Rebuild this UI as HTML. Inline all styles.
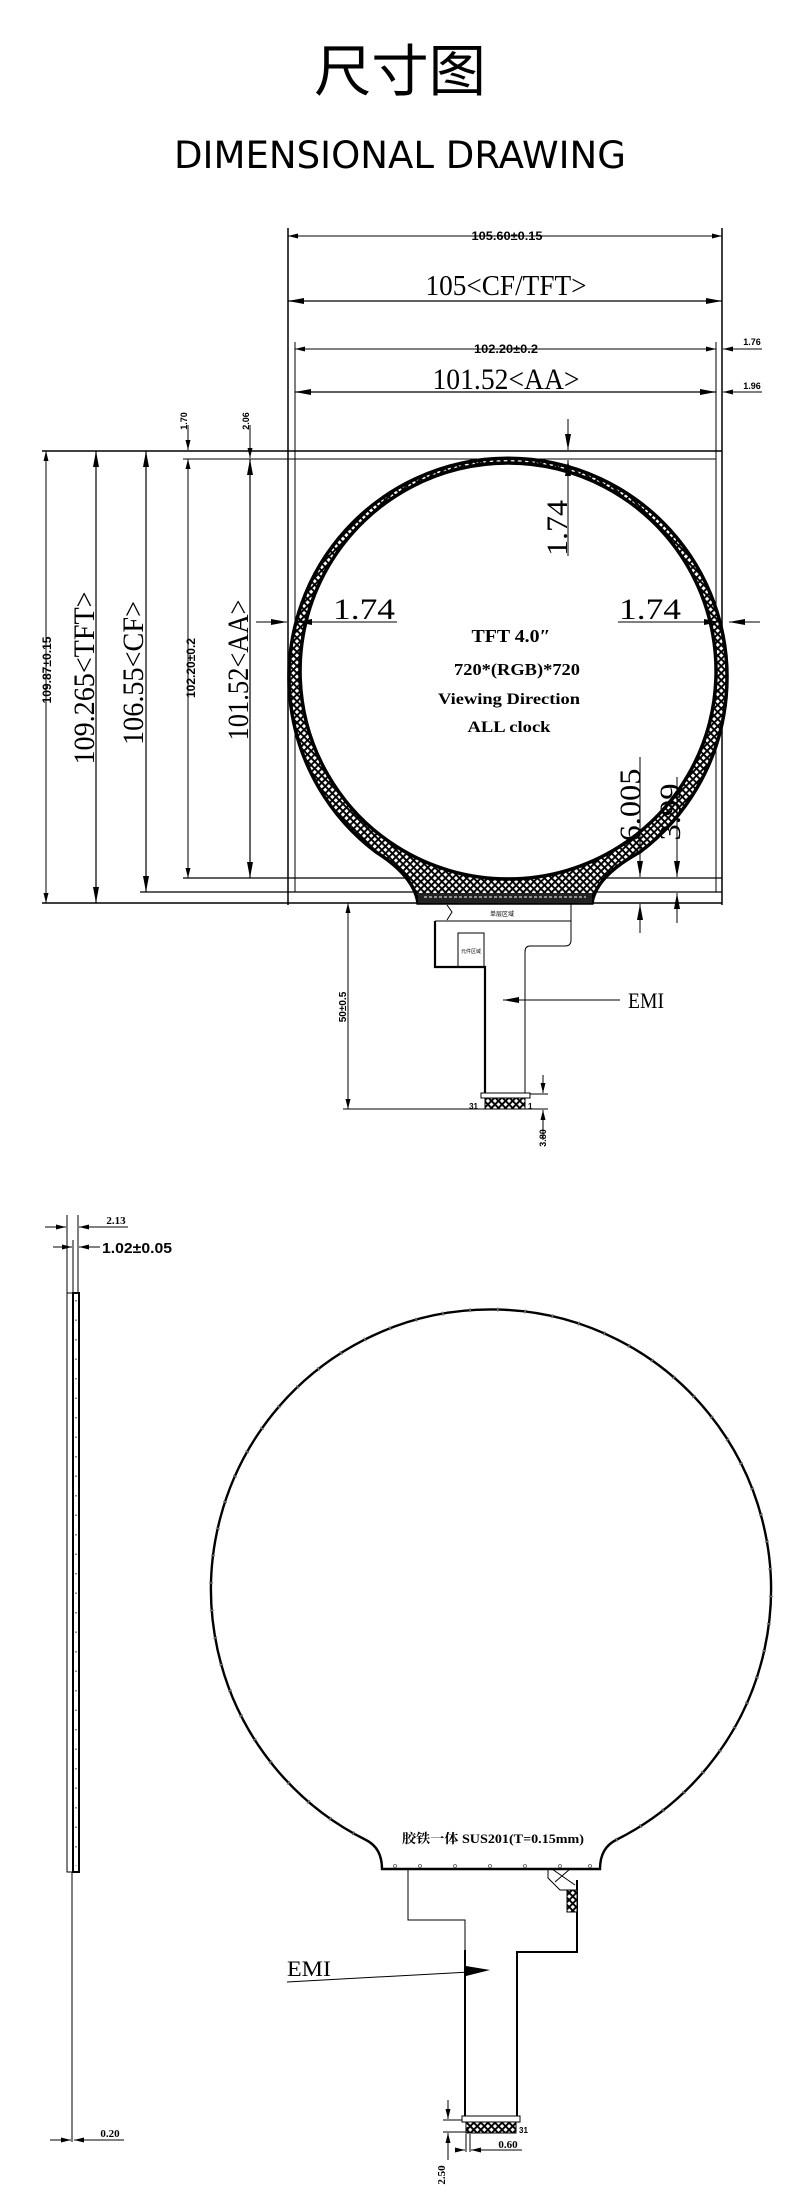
<!DOCTYPE html>
<html><head><meta charset="utf-8"><style>
html,body{margin:0;padding:0;background:#fff;}
svg{display:block}
.s{font-family:"Liberation Sans",sans-serif;font-weight:bold;}
.f{font-family:"Liberation Serif","Noto Serif CJK SC",serif;}
</style></head><body>
<svg width="800" height="2194" viewBox="0 0 800 2194" xmlns="http://www.w3.org/2000/svg">
<defs>
<pattern id="h" width="5" height="5" patternUnits="userSpaceOnUse" patternTransform="rotate(45)">
<rect width="5" height="5" fill="#fff"/>
<rect width="5" height="1.9" fill="#000"/><rect width="1.9" height="5" fill="#000"/>
</pattern>
<marker id="a" viewBox="0 0 10 6" refX="10" refY="3" markerWidth="10" markerHeight="6" markerUnits="userSpaceOnUse" orient="auto-start-reverse"><path d="M0,0.5 L10,3 L0,5.5 Z" fill="#000"/></marker>
<marker id="b" viewBox="0 0 16 6" refX="16" refY="3" markerWidth="16" markerHeight="6" markerUnits="userSpaceOnUse" orient="auto-start-reverse"><path d="M0,0 L16,3 L0,6 Z" fill="#000"/></marker>
</defs>

<!-- Title -->
<text x="400" y="91" text-anchor="middle" font-family="Noto Sans CJK SC, sans-serif" font-size="56" textLength="172" lengthAdjust="spacingAndGlyphs">尺寸图</text>
<text x="400" y="168" text-anchor="middle" font-family="DejaVu Sans, sans-serif" font-size="37" textLength="452" lengthAdjust="spacingAndGlyphs">DIMENSIONAL DRAWING</text>

<g stroke="#000" fill="none">
<line x1="288" y1="228" x2="288" y2="905" stroke-width="1.5"/>
<line x1="722" y1="228" x2="722" y2="905" stroke-width="1.5"/>
<line x1="295" y1="342" x2="295" y2="892" stroke-width="1"/>
<line x1="716" y1="342" x2="716" y2="892" stroke-width="1"/>
<line x1="288" y1="236" x2="722" y2="236" stroke-width="1" marker-start="url(#a)" marker-end="url(#a)"/>
<line x1="288" y1="301" x2="722" y2="301" stroke-width="1.2" marker-start="url(#b)" marker-end="url(#b)"/>
<line x1="295" y1="349" x2="716" y2="349" stroke-width="1" marker-start="url(#a)" marker-end="url(#a)"/>
<line x1="295" y1="392" x2="716" y2="392" stroke-width="1.2" marker-start="url(#b)" marker-end="url(#b)"/>
<line x1="762" y1="349" x2="723" y2="349" stroke-width="1" marker-end="url(#a)"/>
<line x1="762" y1="392" x2="723" y2="392" stroke-width="1" marker-end="url(#a)"/>
<line x1="42" y1="451" x2="722" y2="451" stroke-width="1.5"/>
<line x1="183" y1="459" x2="716" y2="459" stroke-width="1"/>
<line x1="183" y1="878" x2="722" y2="878" stroke-width="1.2"/>
<line x1="140" y1="892" x2="722" y2="892" stroke-width="1.2"/>
<line x1="42" y1="903" x2="722" y2="903" stroke-width="1.5"/>
<line x1="46" y1="451" x2="46" y2="903" stroke-width="1" marker-start="url(#a)" marker-end="url(#a)"/>
<line x1="96" y1="451" x2="96" y2="903" stroke-width="1.2" marker-start="url(#b)" marker-end="url(#b)"/>
<line x1="146" y1="451" x2="146" y2="892" stroke-width="1.2" marker-start="url(#b)" marker-end="url(#b)"/>
<line x1="188" y1="459" x2="188" y2="878" stroke-width="1" marker-start="url(#a)" marker-end="url(#a)"/>
<line x1="250" y1="459" x2="250" y2="878" stroke-width="1.2" marker-start="url(#b)" marker-end="url(#b)"/>
<line x1="188" y1="425" x2="188" y2="450" stroke-width="1" marker-end="url(#a)"/>
<line x1="250" y1="425" x2="250" y2="458" stroke-width="1" marker-end="url(#a)"/>
</g>

<path d="M418,903 L592,903 Q596,876 640,852 A219,219 0 1,0 376,852 Q414,876 418,903 Z M508,463 A208,208 0 1,0 508.1,463 Z" fill="url(#h)" fill-rule="evenodd" stroke="#000" stroke-width="3.5"/>
<rect x="418" y="893" width="174" height="10" fill="#222"/>
<line x1="424" y1="897" x2="586" y2="897" stroke="#fff" stroke-width="1" stroke-dasharray="3,2"/>

<g stroke="#000" fill="none">
<line x1="256" y1="622" x2="287" y2="622" stroke-width="1" marker-end="url(#b)"/>
<line x1="296" y1="622" x2="397" y2="622" stroke-width="1" marker-start="url(#b)"/>
<line x1="618" y1="622" x2="720" y2="622" stroke-width="1" marker-end="url(#b)"/>
<line x1="760" y1="622" x2="729" y2="622" stroke-width="1" marker-end="url(#b)"/>
<line x1="568" y1="419" x2="568" y2="450" stroke-width="1" marker-end="url(#b)"/>
<line x1="568" y1="556" x2="568" y2="460" stroke-width="1" marker-end="url(#b)"/>
<line x1="640" y1="757" x2="640" y2="877" stroke-width="1" marker-end="url(#b)"/>
<line x1="640" y1="933" x2="640" y2="904" stroke-width="1" marker-end="url(#b)"/>
<line x1="677" y1="777" x2="677" y2="877" stroke-width="1" marker-end="url(#b)"/>
<line x1="677" y1="923" x2="677" y2="893" stroke-width="1" marker-end="url(#b)"/>
<path d="M447,905 L452,912 L447,920" stroke-width="1"/>
<path d="M571,903 L571,940 Q571,946 565,946 L530,946 Q525,946 525,952 L525,1093" stroke-width="1"/>
<line x1="435" y1="921" x2="571" y2="921" stroke-width="1"/>
<path d="M435,921 L435,967 L485,967 L485,1093" stroke-width="2.2"/>
<rect x="458" y="933" width="26" height="34" stroke-width="1"/>
<rect x="481" y="1093" width="49" height="5" stroke-width="1"/>
<rect x="485" y="1098" width="40" height="11" fill="url(#h)" stroke-width="1"/>
<line x1="348" y1="903" x2="348" y2="1109" stroke-width="1" marker-start="url(#a)" marker-end="url(#a)"/>
<line x1="343" y1="1109" x2="548" y2="1109" stroke-width="1"/>
<line x1="530" y1="1094" x2="548" y2="1094" stroke-width="1"/>
<line x1="543" y1="1075" x2="543" y2="1093" stroke-width="1" marker-end="url(#a)"/>
<line x1="543" y1="1140" x2="543" y2="1110" stroke-width="1" marker-end="url(#a)"/>
<line x1="620" y1="1000" x2="503" y2="1000" stroke-width="1" marker-end="url(#b)"/>
</g>

<text class="s" x="507" y="240" text-anchor="middle" font-size="12" textLength="71" lengthAdjust="spacingAndGlyphs">105.60±0.15</text>
<text class="f" x="506" y="295" text-anchor="middle" font-size="28" textLength="161" lengthAdjust="spacingAndGlyphs">105&lt;CF/TFT&gt;</text>
<text class="s" x="506" y="353" text-anchor="middle" font-size="12" textLength="64" lengthAdjust="spacingAndGlyphs">102.20±0.2</text>
<text class="f" x="506" y="389" text-anchor="middle" font-size="30" textLength="147" lengthAdjust="spacingAndGlyphs">101.52&lt;AA&gt;</text>
<text class="s" x="752" y="345" text-anchor="middle" font-size="9">1.76</text>
<text class="s" x="752" y="389" text-anchor="middle" font-size="9">1.96</text>
<text class="s" transform="translate(187,421) rotate(-90)" text-anchor="middle" font-size="9">1.70</text>
<text class="s" transform="translate(249,421) rotate(-90)" text-anchor="middle" font-size="9">2.06</text>
<text class="s" transform="translate(51,670) rotate(-90)" text-anchor="middle" font-size="12" textLength="67" lengthAdjust="spacingAndGlyphs">109.87±0.15</text>
<text class="f" transform="translate(94,678) rotate(-90)" text-anchor="middle" font-size="30" textLength="173" lengthAdjust="spacingAndGlyphs">109.265&lt;TFT&gt;</text>
<text class="f" transform="translate(143,673) rotate(-90)" text-anchor="middle" font-size="30" textLength="144" lengthAdjust="spacingAndGlyphs">106.55&lt;CF&gt;</text>
<text class="s" transform="translate(195,668) rotate(-90)" text-anchor="middle" font-size="12" textLength="60" lengthAdjust="spacingAndGlyphs">102.20±0.2</text>
<text class="f" transform="translate(248,670) rotate(-90)" text-anchor="middle" font-size="30" textLength="141" lengthAdjust="spacingAndGlyphs">101.52&lt;AA&gt;</text>
<text class="f" x="364" y="619" text-anchor="middle" font-size="30" textLength="62" lengthAdjust="spacingAndGlyphs">1.74</text>
<text class="f" x="650" y="619" text-anchor="middle" font-size="30" textLength="62" lengthAdjust="spacingAndGlyphs">1.74</text>
<text class="f" transform="translate(567,528) rotate(-90)" text-anchor="middle" font-size="30" textLength="56" lengthAdjust="spacingAndGlyphs">1.74</text>
<text class="f" transform="translate(640,805) rotate(-90)" text-anchor="middle" font-size="30" textLength="73" lengthAdjust="spacingAndGlyphs">6.005</text>
<text class="f" transform="translate(680,812) rotate(-90)" text-anchor="middle" font-size="30" textLength="57" lengthAdjust="spacingAndGlyphs">3.99</text>
<g class="f" font-weight="bold" text-anchor="middle">
<text x="511" y="642" font-size="18" textLength="79" lengthAdjust="spacingAndGlyphs">TFT 4.0″</text>
<text x="517" y="675" font-size="17" textLength="126" lengthAdjust="spacingAndGlyphs">720*(RGB)*720</text>
<text x="509" y="704" font-size="16" textLength="142" lengthAdjust="spacingAndGlyphs">Viewing Direction</text>
<text x="509" y="732" font-size="16" textLength="83" lengthAdjust="spacingAndGlyphs">ALL clock</text>
</g>
<text x="502" y="916" text-anchor="middle" font-size="6" font-family="Noto Sans CJK SC,sans-serif">单层区域</text>
<text x="471" y="953" text-anchor="middle" font-size="5" font-family="Noto Sans CJK SC,sans-serif">元件区域</text>
<text class="s" x="478" y="1109" text-anchor="end" font-size="8">31</text>
<text class="s" x="528" y="1109" font-size="8">1</text>
<text class="s" transform="translate(346,1007) rotate(-90)" text-anchor="middle" font-size="10">50±0.5</text>
<text class="s" transform="translate(546,1138) rotate(-90)" text-anchor="middle" font-size="9">3.80</text>
<text class="f" x="628" y="1008" font-size="22" textLength="36" lengthAdjust="spacingAndGlyphs">EMI</text>

<g stroke="#000" fill="none">
<line x1="67" y1="1215" x2="67" y2="1293" stroke-width="1"/>
<line x1="73" y1="1240" x2="73" y2="1293" stroke-width="1"/>
<line x1="78" y1="1215" x2="78" y2="1293" stroke-width="1"/>
<line x1="45" y1="1227" x2="66" y2="1227" stroke-width="1" marker-end="url(#a)"/>
<line x1="108" y1="1227" x2="79" y2="1227" stroke-width="1" marker-end="url(#a)"/>
<line x1="108" y1="1227" x2="128" y2="1227" stroke-width="1"/>
<line x1="53" y1="1247" x2="72" y2="1247" stroke-width="1" marker-end="url(#a)"/>
<line x1="100" y1="1247" x2="79" y2="1247" stroke-width="1" marker-end="url(#a)"/>
<rect x="67" y="1293" width="12" height="579" stroke-width="1"/>
<rect x="73" y="1293" width="6" height="579" stroke-width="2"/>
<line x1="76" y1="1300" x2="76" y2="1866" stroke="#888" stroke-width="2" stroke-dasharray="1.5,18"/>
<line x1="72" y1="1872" x2="72" y2="2142" stroke-width="1"/>
<line x1="50" y1="2140" x2="71" y2="2140" stroke-width="1" marker-end="url(#a)"/>
<line x1="94" y1="2140" x2="74" y2="2140" stroke-width="1" marker-end="url(#a)"/>
<line x1="94" y1="2140" x2="124" y2="2140" stroke-width="1"/>
</g>
<text class="f" x="116" y="1224" text-anchor="middle" font-size="11" font-weight="bold">2.13</text>
<text class="s" x="137" y="1253" text-anchor="middle" font-size="15" textLength="70" lengthAdjust="spacingAndGlyphs">1.02±0.05</text>
<text class="f" x="110" y="2137" text-anchor="middle" font-size="11" font-weight="bold">0.20</text>

<g stroke="#000" fill="none">
<path d="M382,1869 L600,1869 Q600,1848 616,1840 A280,280 0 1,0 366,1840 Q382,1848 382,1869 Z" stroke-width="2.4"/>
<path d="M616,1840 A280,280 0 1,0 366,1840" stroke="#777" stroke-width="4" stroke-dasharray="1.5,26"/>
<path d="M408,1869 L408,1920 L465,1920 L465,2116" stroke-width="1"/>
<line x1="465" y1="1950" x2="465" y2="2116" stroke-width="2"/>
<path d="M577,1880 L577,1952 L517,1952 L517,2116" stroke-width="2"/>
<path d="M548,1869 L548,1878 L560,1890 L575,1890 M552,1869 L575,1885 M570,1869 L555,1882" stroke-width="1"/>
<rect x="567" y="1890" width="10" height="22" fill="url(#h)" stroke-width="1"/>
<rect x="462" y="2116" width="58" height="6" stroke-width="1"/>
<rect x="466" y="2122" width="50" height="11" fill="url(#h)" stroke-width="1"/>
<line x1="443" y1="2120" x2="462" y2="2120" stroke-width="1"/>
<line x1="443" y1="2132" x2="466" y2="2132" stroke-width="1"/>
<line x1="448" y1="2100" x2="448" y2="2119" stroke-width="1" marker-end="url(#a)"/>
<line x1="448" y1="2160" x2="448" y2="2133" stroke-width="1" marker-end="url(#a)"/>
<line x1="466" y1="2134" x2="466" y2="2152" stroke-width="1"/>
<line x1="470" y1="2134" x2="470" y2="2152" stroke-width="1"/>
<line x1="455" y1="2150" x2="465" y2="2150" stroke-width="1" marker-end="url(#a)"/>
<line x1="482" y1="2150" x2="471" y2="2150" stroke-width="1" marker-end="url(#a)"/>
<line x1="482" y1="2150" x2="522" y2="2150" stroke-width="1"/>
<line x1="287" y1="1982" x2="470" y2="1972" stroke-width="1"/>
</g>
<path d="M466,1966 L490,1970 L466,1976 Z" fill="#000"/>
<g fill="#fff" stroke="#555" stroke-width="0.8">
<circle cx="395" cy="1866" r="1.5"/><circle cx="420" cy="1866" r="1.5"/><circle cx="455" cy="1866" r="1.5"/><circle cx="490" cy="1866" r="1.5"/><circle cx="525" cy="1866" r="1.5"/><circle cx="560" cy="1866" r="1.5"/><circle cx="590" cy="1866" r="1.5"/>
</g>
<text x="493" y="1843" text-anchor="middle" font-family="Liberation Serif,Noto Serif CJK SC,serif" font-weight="bold" font-size="13" textLength="182" lengthAdjust="spacingAndGlyphs">胶铁一体 SUS201(T=0.15mm)</text>
<text class="f" x="287" y="1976" font-size="22" textLength="44" lengthAdjust="spacingAndGlyphs">EMI</text>
<text class="s" x="470" y="2133" text-anchor="end" font-size="8">1</text>
<text class="s" x="519" y="2133" font-size="8">31</text>
<text class="f" x="508" y="2148" text-anchor="middle" font-size="11" font-weight="bold">0.60</text>
<text class="f" transform="translate(445,2175) rotate(-90)" text-anchor="middle" font-size="11" font-weight="bold">2.50</text>
</svg>
</body></html>
